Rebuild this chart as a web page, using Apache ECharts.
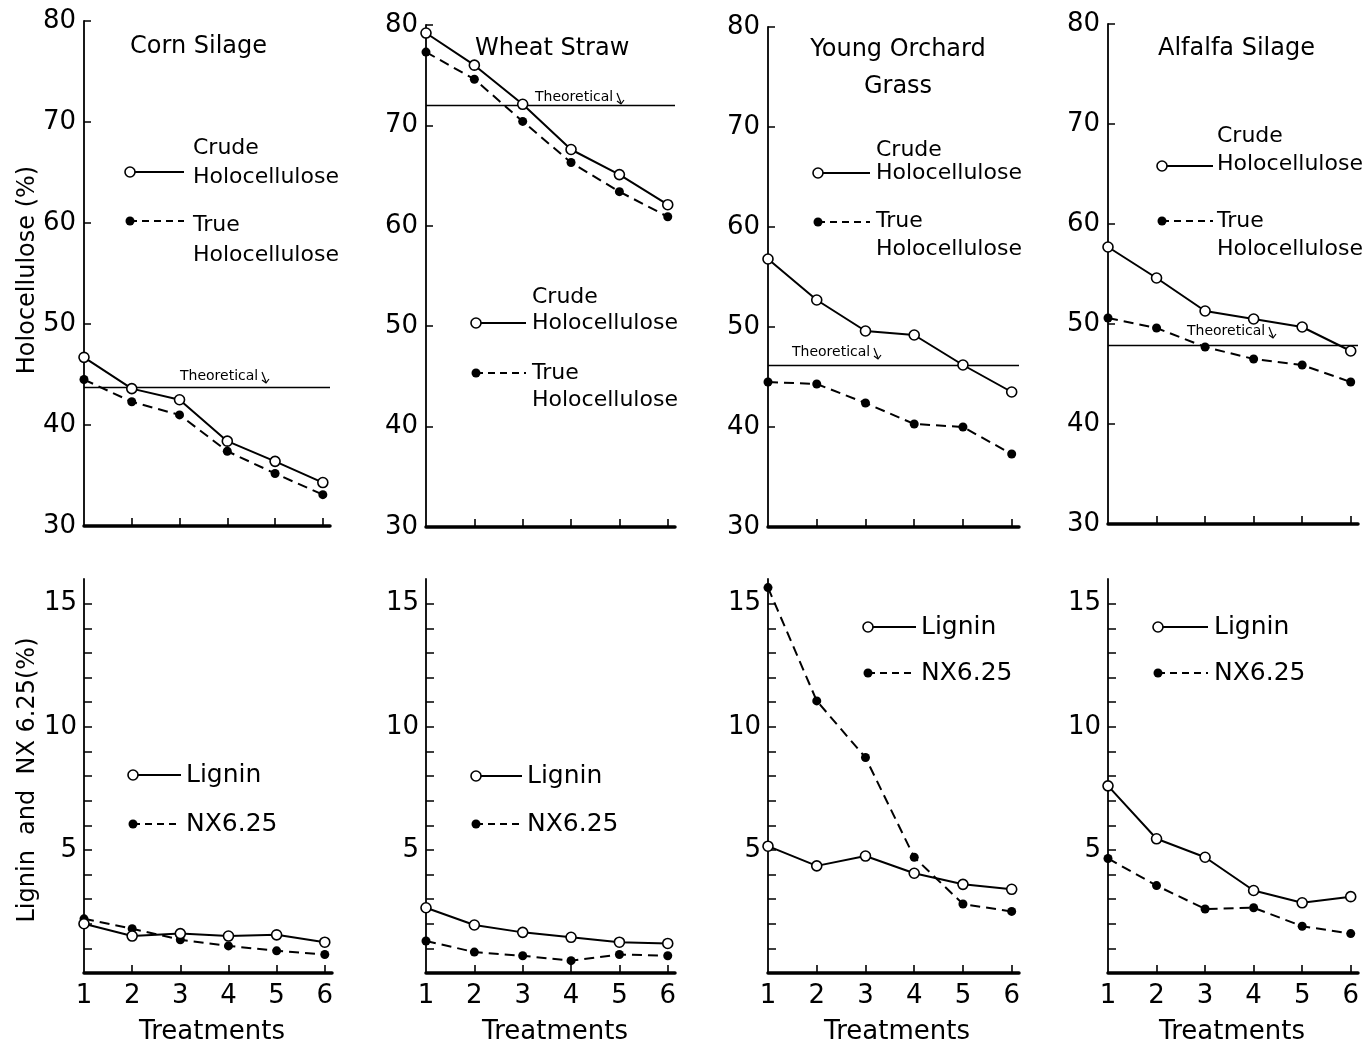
<!DOCTYPE html>
<html>
<head>
<meta charset="utf-8">
<script src="https://cdn.jsdelivr.net/npm/echarts@6/dist/echarts.min.js"></script>
<style>
html,body{margin:0;padding:0;background:#fff;}
#chart{width:1369px;height:1044px;}
</style>
</head>
<body>
<div id="chart"></div>
<script>
// ---------- data ----------
const treatments = [1, 2, 3, 4, 5, 6];
const panelTitles = ['Corn Silage', 'Wheat Straw', 'Young Orchard\nGrass', 'Alfalfa Silage'];

const crudeCorn    = [46.7, 43.6, 42.5, 38.4, 36.4, 34.3];
const trueCorn     = [44.5, 42.3, 41.0, 37.4, 35.2, 33.1];
const crudeWheat   = [79.2, 76.0, 72.1, 67.6, 65.1, 62.1];
const trueWheat    = [77.3, 74.6, 70.4, 66.3, 63.4, 60.9];
const crudeOrchard = [56.8, 52.7, 49.6, 49.2, 46.2, 43.5];
const trueOrchard  = [44.5, 44.3, 42.4, 40.3, 40.0, 37.3];
const crudeAlfalfa = [57.7, 54.6, 51.3, 50.5, 49.7, 47.3];
const trueAlfalfa  = [50.6, 49.6, 47.7, 46.5, 45.9, 44.2];
const theoretical  = [43.7, 72.0, 46.2, 47.9];

const ligninCorn    = [2.0, 1.5, 1.6, 1.5, 1.55, 1.25];
const nxCorn        = [2.2, 1.8, 1.35, 1.1, 0.9, 0.75];
const ligninWheat   = [2.65, 1.95, 1.65, 1.45, 1.25, 1.2];
const nxWheat       = [1.3, 0.85, 0.7, 0.5, 0.75, 0.7];
const ligninOrchard = [5.15, 4.35, 4.75, 4.05, 3.6, 3.4];
const nxOrchard     = [15.65, 11.05, 8.75, 4.7, 2.8, 2.5];
const ligninAlfalfa = [7.6, 5.45, 4.7, 3.35, 2.85, 3.1];
const nxAlfalfa     = [4.65, 3.55, 2.6, 2.65, 1.9, 1.6];

const holoTicks   = [30, 40, 50, 60, 70, 80];
const ligTickVals = [1,2,3,4,5,6,7,8,9,10,11,12,13,14,15];
const ligLabelVals = [5, 10, 15];

const crudeSets  = [crudeCorn, crudeWheat, crudeOrchard, crudeAlfalfa];
const trueSets   = [trueCorn, trueWheat, trueOrchard, trueAlfalfa];
const ligninSets = [ligninCorn, ligninWheat, ligninOrchard, ligninAlfalfa];
const nxSets     = [nxCorn, nxWheat, nxOrchard, nxAlfalfa];

// ---------- layout ----------
const FONT = '"DejaVu Sans", sans-serif';
const topGrids = [
  {left: 84, top: 21, width: 246, height: 505},
  {left: 426, top: 25, width: 249, height: 502},
  {left: 768, top: 27, width: 251, height: 500},
  {left: 1108, top: 24, width: 250, height: 500}
];
const botGrids = [
  {left: 84, top: 579, width: 248, height: 394},
  {left: 426, top: 579, width: 249, height: 394},
  {left: 768, top: 579, width: 251, height: 394},
  {left: 1108, top: 579, width: 250, height: 394}
];
const XMAX = 6.15;

const pair = arr => arr.map((v, i) => [treatments[i], v]);

const grid = [], xAxis = [], yAxis = [], series = [];

function addPanel(g, isTop) {
  const idx = grid.length;
  grid.push(Object.assign({containLabel: false}, g));
  xAxis.push({
    type: 'value', gridIndex: idx, min: 1, max: XMAX,
    axisLine: {show: true, onZero: false, lineStyle: {color: '#000', width: 3.5}},
    axisTick: {show: true, inside: true, length: 8, customValues: [2,3,4,5,6], lineStyle: {color: '#000', width: 1.6}},
    axisLabel: {show: !isTop, customValues: treatments, color: '#000', fontFamily: FONT, fontSize: 26, margin: 10},
    splitLine: {show: false}
  });
  if (isTop) {
    yAxis.push({
      type: 'value', gridIndex: idx, min: 30, max: 80, interval: 10,
      axisLine: {show: true, onZero: false, lineStyle: {color: '#000', width: 1.8}},
      axisTick: {show: true, inside: true, length: 7, lineStyle: {color: '#000', width: 1.5}},
      axisLabel: {show: true, color: '#000', fontFamily: FONT, fontSize: 26, margin: 8},
      splitLine: {show: false}
    });
  } else {
    yAxis.push({
      type: 'value', gridIndex: idx, min: 0, max: 16,
      axisLine: {show: true, onZero: false, lineStyle: {color: '#000', width: 1.8}},
      axisTick: {show: true, inside: true, length: 8, customValues: ligTickVals, lineStyle: {color: '#000', width: 1.5}},
      axisLabel: {show: true, customValues: ligLabelVals, color: '#000', fontFamily: FONT, fontSize: 26, margin: 7},
      splitLine: {show: false}
    });
  }
  return idx;
}

function solidSeries(idx, data) {
  return {
    type: 'line', xAxisIndex: idx, yAxisIndex: idx, data: pair(data),
    symbol: 'circle', symbolSize: 10, z: 5,
    lineStyle: {color: '#000', width: 2},
    itemStyle: {color: '#fff', borderColor: '#000', borderWidth: 1.6},
    emphasis: {disabled: true}, animation: false
  };
}
function dashSeries(idx, data) {
  return {
    type: 'line', xAxisIndex: idx, yAxisIndex: idx, data: pair(data),
    symbol: 'circle', symbolSize: 9, z: 4,
    lineStyle: {color: '#000', width: 2, type: [10, 6]},
    itemStyle: {color: '#000', borderColor: '#000', borderWidth: 0},
    emphasis: {disabled: true}, animation: false
  };
}

for (let p = 0; p < 4; p++) {
  const idx = addPanel(topGrids[p], true);
  const s1 = solidSeries(idx, crudeSets[p]);
  s1.markLine = {
    silent: true, symbol: 'none', animation: false,
    label: {show: false},
    lineStyle: {color: '#000', width: 1.3, type: 'solid'},
    data: [[{coord: [1, theoretical[p]]}, {coord: [XMAX, theoretical[p]]}]]
  };
  series.push(s1, dashSeries(idx, trueSets[p]));
}
for (let p = 0; p < 4; p++) {
  const idx = addPanel(botGrids[p], false);
  series.push(solidSeries(idx, ligninSets[p]), dashSeries(idx, nxSets[p]));
}

// ---------- annotations (text / legend keys) ----------
const graphic = [];
function txt(x, y, text, size, align, extra) {
  graphic.push(Object.assign({
    type: 'text', x: x, y: y, silent: true, z: 10,
    style: {text: text, font: size + 'px ' + FONT, fill: '#000',
      textAlign: align || 'left', align: align || 'left',
      textVerticalAlign: 'middle', verticalAlign: 'middle'}
  }, extra || {}));
}
function keySolid(x1, x2, y) {
  graphic.push({type: 'line', silent: true, z: 10, shape: {x1: x1, y1: y, x2: x2, y2: y}, style: {stroke: '#000', lineWidth: 2}});
  graphic.push({type: 'circle', silent: true, z: 11, shape: {cx: x1, cy: y, r: 5}, style: {fill: '#fff', stroke: '#000', lineWidth: 1.6}});
}
function keyDash(x1, x2, y) {
  graphic.push({type: 'line', silent: true, z: 10, shape: {x1: x1, y1: y, x2: x2, y2: y}, style: {stroke: '#000', lineWidth: 2, lineDash: [7, 5]}});
  graphic.push({type: 'circle', silent: true, z: 11, shape: {cx: x1, cy: y, r: 4.5}, style: {fill: '#000', stroke: '#000', lineWidth: 0}});
}
function theoLabel(x, y) {
  txt(x, y, 'Theoretical', 14, 'left');
  const ex = x + 84;
  graphic.push({type: 'polyline', silent: true, z: 10, shape: {points: [[ex - 2, y - 4], [ex + 2, y + 6]]}, style: {stroke: '#000', lineWidth: 1.2, fill: null}});
  graphic.push({type: 'polyline', silent: true, z: 10, shape: {points: [[ex - 2, y + 4], [ex + 2, y + 7], [ex + 5, y + 3]]}, style: {stroke: '#000', lineWidth: 1.2, fill: null}});
}

// panel titles
txt(130, 47, panelTitles[0], 24, 'left');
txt(475, 49, panelTitles[1], 24, 'left');
txt(898, 50, panelTitles[2].split('\n')[0], 24, 'center');
txt(898, 87, panelTitles[2].split('\n')[1], 24, 'center');
txt(1158, 49, panelTitles[3], 24, 'left');

// top legends
const topLegend = [
  {cx: 130, x2: 184, tx: 193, crudeY: 148, holoY: 177, lineY: 172, dotY: 221, trueY: 225, holo2Y: 255},
  {cx: 476, x2: 526, tx: 532, crudeY: 297, holoY: 323, lineY: 323, dotY: 373, trueY: 373, holo2Y: 400},
  {cx: 818, x2: 870, tx: 876, crudeY: 150, holoY: 173, lineY: 173, dotY: 222, trueY: 221, holo2Y: 249},
  {cx: 1162, x2: 1213, tx: 1217, crudeY: 136, holoY: 164, lineY: 166, dotY: 221, trueY: 221, holo2Y: 249}
];
topLegend.forEach(l => {
  keySolid(l.cx, l.x2, l.lineY);
  keyDash(l.cx, l.x2, l.dotY);
  txt(l.tx, l.crudeY, 'Crude', 22);
  txt(l.tx, l.holoY, 'Holocellulose', 22);
  txt(l.tx, l.trueY, 'True', 22);
  txt(l.tx, l.holo2Y, 'Holocellulose', 22);
});

// theoretical labels
theoLabel(180, 376);
theoLabel(535, 97);
theoLabel(792, 352);
theoLabel(1187, 331);

// bottom legends
const botLegend = [
  {cx: 133, x2: 181, tx: 186, ly: 775, ny: 824},
  {cx: 476, x2: 522, tx: 527, ly: 776, ny: 824},
  {cx: 868, x2: 916, tx: 921, ly: 627, ny: 673},
  {cx: 1158, x2: 1208, tx: 1214, ly: 627, ny: 673}
];
botLegend.forEach(l => {
  keySolid(l.cx, l.x2, l.ly);
  keyDash(l.cx, l.x2, l.ny);
  txt(l.tx, l.ly, 'Lignin', 25);
  txt(l.tx, l.ny, 'NX6.25', 25);
});

// axis titles
txt(28, 270, 'Holocellulose (%)', 24, 'center', {rotation: Math.PI / 2});
txt(28, 780, 'Lignin  and  NX 6.25(%)', 24, 'center', {rotation: Math.PI / 2});
[212, 555, 897, 1232].forEach(cx => txt(cx, 1032, 'Treatments', 26, 'center'));

const chart = echarts.init(document.getElementById('chart'), null, {renderer: 'canvas'});
chart.setOption({
  animation: false,
  backgroundColor: '#fff',
  grid: grid, xAxis: xAxis, yAxis: yAxis, series: series,
  graphic: {elements: graphic}
});
</script>
</body>
</html>
